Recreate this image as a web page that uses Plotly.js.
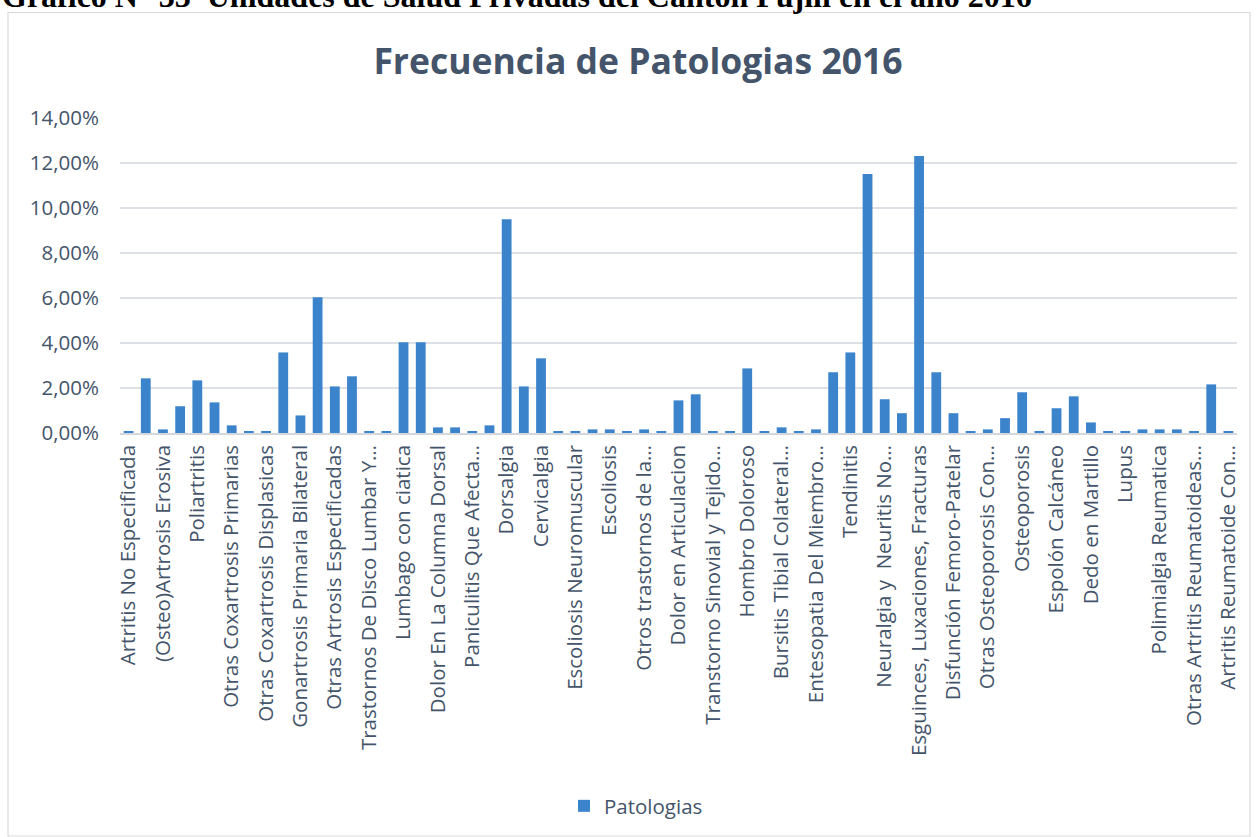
<!DOCTYPE html>
<html>
<head>
<meta charset="utf-8">
<script src="https://cdn.plot.ly/plotly-3.0.1.min.js"></script>
<style>
  html, body { margin: 0; padding: 0; background: #ffffff; }
  #chart { width: 1258px; height: 837px; }
</style>
</head>
<body>
<div id="chart"></div>
<script>
// Visible tick labels (every second category is labelled in the original chart)
const tickLabels = [
  "Artritis No Especificada",
  "(Osteo)Artrosis Erosiva",
  "Poliartritis",
  "Otras Coxartrosis Primarias",
  "Otras Coxartrosis Displasicas",
  "Gonartrosis Primaria Bilateral",
  "Otras Artrosis Especificadas",
  "Trastornos De Disco Lumbar Y…",
  "Lumbago con ciatica",
  "Dolor En La Columna Dorsal",
  "Paniculitis Que Afecta…",
  "Dorsalgia",
  "Cervicalgia",
  "Escoliosis Neuromuscular",
  "Escoliosis",
  "Otros trastornos de la…",
  "Dolor en Articulacion",
  "Transtorno Sinovial y Tejido…",
  "Hombro Doloroso",
  "Bursitis Tibial Colateral…",
  "Entesopatia Del Miembro…",
  "Tendinitis",
  "Neuralgia y  Neuritis No…",
  "Esguinces, Luxaciones, Fracturas",
  "Disfunción Femoro-Patelar",
  "Otras Osteoporosis Con…",
  "Osteoporosis",
  "Espolón Calcáneo",
  "Dedo en Martillo",
  "Lupus",
  "Polimialgia Reumatica",
  "Otras Artritis Reumatoideas…",
  "Artritis Reumatoide Con…"
];

// Percentage of each of the 65 pathologies (in %)
const values = [
  0.07, 2.43, 0.16, 1.19, 2.34, 1.36, 0.34, 0.07, 0.07, 3.58,
  0.78, 6.03, 2.07, 2.52, 0.07, 0.07, 4.03, 4.03, 0.25, 0.25,
  0.07, 0.34, 9.50, 2.07, 3.32, 0.07, 0.07, 0.16, 0.16, 0.07,
  0.16, 0.07, 1.45, 1.72, 0.07, 0.07, 2.87, 0.07, 0.25, 0.07,
  0.16, 2.70, 3.58, 11.51, 1.50, 0.88, 12.31, 2.70, 0.88, 0.07,
  0.16, 0.66, 1.81, 0.07, 1.10, 1.63, 0.47, 0.07, 0.07, 0.16,
  0.16, 0.16, 0.07, 2.16, 0.07
];

// y axis ticks
const yTickValues = [0, 2, 4, 6, 8, 10, 12, 14];
const yTickLabels = ["0,00%", "2,00%", "4,00%", "6,00%", "8,00%", "10,00%", "12,00%", "14,00%"];

const seriesName = "Patologias";
const chartTitle = "Frecuencia de Patologias 2016";
const headerText = "Gráfico N° 33  Unidades de Salud Privadas del Cantón Pujilí en el año 2016";

const xIndex = values.map((v, i) => i);
const tickPositions = tickLabels.map((t, i) => i * 2);

const textColor = "#44546A";
const gridColor = "#DDE1E6";
const FS = 20.5;

const trace = {
  type: "bar",
  x: xIndex,
  y: values,
  name: seriesName,
  width: 0.57,
  marker: { color: "#3B83CB", line: { width: 0 } },
  hovertemplate: "%{y:.2f}%<extra></extra>"
};

// plot area geometry helpers
const W = 1258, H = 837;
const mL = 120, mR = 21, mT = 118, mB = 404;
const plotW = W - mL - mR, plotH = H - mT - mB;
const px2paperX = p => (p - mL) / plotW;
const px2paperY = p => (H - mB - p) / plotH;

const layout = {
  width: W,
  height: H,
  margin: { l: mL, r: mR, t: mT, b: mB, pad: 0 },
  paper_bgcolor: "#ffffff",
  plot_bgcolor: "#ffffff",
  separators: ",.",
  font: { family: "Open Sans, DejaVu Sans, sans-serif", color: textColor, size: FS },
  title: {
    text: "<b>" + chartTitle + "</b>",
    font: { family: "Open Sans, DejaVu Sans, sans-serif", size: 35.5, color: textColor },
    x: 638 / W, xref: "container", xanchor: "center",
    y: 1 - 62 / H, yref: "container", yanchor: "middle"
  },
  showlegend: true,
  legend: {
    orientation: "h",
    x: px2paperX(636), xanchor: "center",
    y: px2paperY(806), yanchor: "middle",
    font: { size: FS, color: textColor },
    bgcolor: "rgba(0,0,0,0)"
  },
  xaxis: {
    range: [-0.5, values.length - 0.5],
    tickmode: "array",
    tickvals: tickPositions,
    ticktext: tickLabels,
    tickangle: -90,
    ticks: "",
    showgrid: false,
    zeroline: false,
    showline: true,
    linecolor: "#D4D8DE",
    linewidth: 1.5,
    ticklabelstandoff: 2,
    tickfont: { size: FS, color: textColor },
    automargin: false
  },
  yaxis: {
    range: [0, 14],
    tickmode: "array",
    tickvals: yTickValues,
    ticktext: yTickLabels,
    ticks: "",
    showgrid: true,
    gridcolor: gridColor,
    gridwidth: 1.5,
    zeroline: false,
    showline: false,
    ticklabelstandoff: 20,
    tickfont: { size: FS, color: textColor },
    automargin: false
  },
  shapes: [
    {
      type: "rect", xref: "paper", yref: "paper",
      x0: px2paperX(8), x1: px2paperX(1250),
      y0: px2paperY(836), y1: px2paperY(12.5),
      line: { color: "#D9D9D9", width: 1.2 },
      fillcolor: "rgba(0,0,0,0)",
      layer: "below"
    }
  ],
  annotations: [
    {
      text: "<b>" + headerText + "</b>",
      xref: "paper", yref: "paper",
      x: px2paperX(0), xanchor: "left",
      y: px2paperY(-4), yanchor: "middle",
      showarrow: false,
      font: { family: "Liberation Serif, Times New Roman, serif", size: 32, color: "#000000" }
    }
  ]
};

Plotly.newPlot("chart", [trace], layout, { displayModeBar: false, responsive: false });
</script>
</body>
</html>
